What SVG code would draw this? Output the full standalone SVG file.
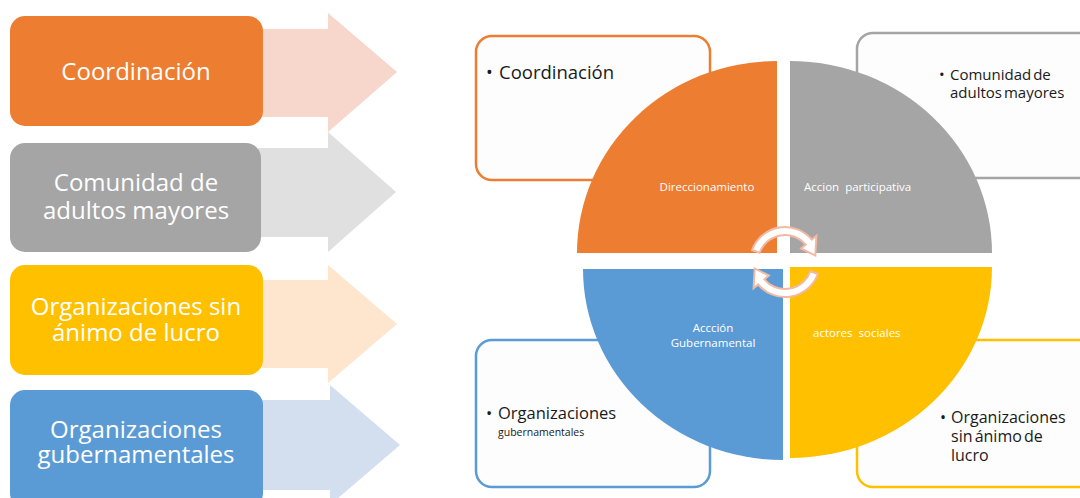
<svg xmlns="http://www.w3.org/2000/svg" width="1080" height="498" viewBox="0 0 1080 498">
<style>
.lbl{font-family:"Open Sans","Liberation Sans",sans-serif;font-size:24px;fill:#ffffff;text-anchor:middle}
.box{fill:#fdfdfd;stroke-width:2.5}
.bt{font-family:"Open Sans","Liberation Sans",sans-serif;fill:#1a1a1a}
.ql{font-family:"Open Sans","Liberation Sans",sans-serif;font-size:11.5px;fill:#ffffff}
.cyc{fill:#ffffff;stroke:#f2b9a3;stroke-width:2}
</style>
<rect width="1080" height="498" fill="#ffffff"/>
<g id="connectors">
<polygon points="262,29 328,29 328,13 397,72 328,132 328,117 262,117" fill="#f7d6cb"/>
<polygon points="258,148 328,148 328,132 396,192 328,252 328,237 258,237" fill="#e0e0e0"/>
<polygon points="262,280 328,280 328,265 397,324 328,383 328,368 262,368" fill="#fde6cd"/>
<polygon points="262,400 330,400 330,385 400,445 330,505 330,490 262,490" fill="#d3dfef"/>
</g>
<g id="node-coordinacion">
<rect x="10" y="16" width="253" height="110" rx="15" fill="#ed7d31"/>
<text class="lbl" x="136" y="80">Coordinación</text>
</g>
<g id="node-comunidad">
<rect x="10" y="143" width="251" height="109" rx="15" fill="#a5a5a5"/>
<text class="lbl" x="136" y="191">Comunidad de</text>
<text class="lbl" x="136" y="219">adultos mayores</text>
</g>
<g id="node-sin-animo">
<rect x="10" y="265" width="253" height="110" rx="15" fill="#ffc000"/>
<text class="lbl" x="136" y="315">Organizaciones sin</text>
<text class="lbl" x="136" y="341">ánimo de lucro</text>
</g>
<g id="node-gubernamentales">
<rect x="10" y="390" width="253" height="118" rx="15" fill="#5b9bd5"/>
<text class="lbl" x="136" y="438">Organizaciones</text>
<text class="lbl" x="136" y="463">gubernamentales</text>
</g>
<g id="box-coordinacion">
<rect class="box" x="476" y="36" width="234" height="144" rx="16" stroke="#ed7d31"/>
<text class="bt" x="486" y="79" font-size="18">•</text>
<text class="bt" x="499" y="79" font-size="18.5">Coordinación</text>
</g>
<g id="box-comunidad">
<rect class="box" x="857" y="33" width="240" height="145" rx="16" stroke="#a5a5a5"/>
<text class="bt" x="939" y="80" font-size="15">•</text>
<text class="bt" x="950" y="80" font-size="15" word-spacing="-2">Comunidad de</text>
<text class="bt" x="950" y="98" font-size="15" word-spacing="-2">adultos mayores</text>
</g>
<g id="box-gubernamentales">
<rect class="box" x="476" y="340" width="234" height="147" rx="16" stroke="#5b9bd5"/>
<text class="bt" x="486" y="419" font-size="16.5">•</text>
<text class="bt" x="498" y="419" font-size="16.5">Organizaciones</text>
<text class="bt" x="498" y="436" font-size="10.5">gubernamentales</text>
</g>
<g id="box-sin-animo">
<rect class="box" x="857" y="340" width="240" height="147" rx="16" stroke="#ffc000"/>
<text class="bt" x="940" y="423" font-size="16">•</text>
<text class="bt" x="951" y="423" font-size="16">Organizaciones</text>
<text class="bt" x="951" y="442" font-size="16" word-spacing="-2">sin ánimo de</text>
<text class="bt" x="951" y="461" font-size="16">lucro</text>
</g>
<g id="quad-direccionamiento">
<path d="M777,253 L577,253 A200,192 0 0 1 777,61 Z" fill="#ed7d31"/>
<text class="ql" x="707" y="191" text-anchor="middle">Direccionamiento</text>
</g>
<g id="quad-accion">
<path d="M790,253 L790,61 A202,192 0 0 1 992,253 Z" fill="#a5a5a5"/>
<text class="ql" x="804" y="191" xml:space="preserve">Accion  participativa</text>
</g>
<g id="quad-gubernamental">
<path d="M783,269 L783,460 A200,191 0 0 1 583,269 Z" fill="#5b9bd5"/>
<text class="ql" x="713" y="332" text-anchor="middle">Accción</text>
<text class="ql" x="713" y="347" text-anchor="middle">Gubernamental</text>
</g>
<g id="quad-actores">
<path d="M790,267 L992,267 A202,191 0 0 1 790,458 Z" fill="#ffc000"/>
<text class="ql" x="813" y="337" xml:space="preserve">actores  sociales</text>
</g>
<g id="cycle">
<path class="cyc" d="M752.11,250.03 A35,35 0 0 1 811.81,239.50 L816.41,235.65 L815.32,255.55 L801.09,248.50 L805.68,244.64 A27,27 0 0 0 759.63,252.77 Z"/>
<path class="cyc" transform="rotate(180 785 262)" d="M752.11,250.03 A35,35 0 0 1 811.81,239.50 L816.41,235.65 L815.32,255.55 L801.09,248.50 L805.68,244.64 A27,27 0 0 0 759.63,252.77 Z"/>
</g>
</svg>
